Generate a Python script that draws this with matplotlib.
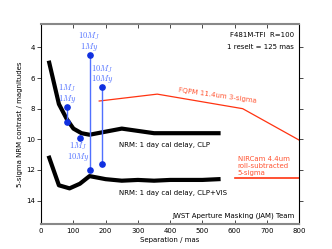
import matplotlib
matplotlib.use("Agg")
import matplotlib.pyplot as plt

plt.rcParams['mathtext.fontset'] = 'cm'

# NRM contrast curves (separation in mas, contrast in mag)
clp_sep = [25, 55, 80, 100, 125, 150, 200, 250, 300, 350, 400, 450, 500, 550]
clp_mag = [5.0, 7.7, 8.7, 9.3, 9.6, 9.7, 9.5, 9.3, 9.45, 9.6, 9.6, 9.6, 9.6, 9.6]
vis_sep = [25, 55, 88, 120, 150, 200, 250, 300, 350, 400, 450, 500, 550]
vis_mag = [11.2, 13.0, 13.2, 12.9, 12.4, 12.6, 12.7, 12.65, 12.7, 12.65, 12.65, 12.65, 12.6]

# FQPM and NIRCam curves
fqpm_sep = [180, 360, 625, 800]
fqpm_mag = [7.5, 7.05, 8.0, 10.05]
nircam_sep = [600, 800]
nircam_mag = [12.5, 12.5]

# planet models: separation, top mag, bottom mag, labels
planet_sep = [80, 150, 190]
planet_top = [7.9, 4.5, 6.6]
planet_bot = [8.9, 12.0, 11.6]
planet_labels = [r'$1M_J$' + '\n' + r'$1My$', r'$10M_J$' + '\n' + r'$1My$', r'$10M_J$' + '\n' + r'$10My$']
single_sep = 120
single_mag = 9.9
single_label = r'$1M_J$' + '\n' + r'$10My$'

fig = plt.figure(figsize=(3.32, 2.49), dpi=100)
ax = fig.add_axes([0.124, 0.102, 0.777, 0.8])

ax.plot(clp_sep, clp_mag, color='black', lw=3)
ax.plot(vis_sep, vis_mag, color='black', lw=3)
ax.plot(fqpm_sep, fqpm_mag, color='#ff3311', lw=0.9)
ax.plot(nircam_sep, nircam_mag, color='#ff3311', lw=1.2)

blue = '#1030e0'
lblue = '#5070ff'
for s, t, b, lab in zip(planet_sep, planet_top, planet_bot, planet_labels):
    ax.plot([s, s], [t, b], color=lblue, lw=1)
    ax.plot([s, s], [t, b], 'o', color=blue, ms=3.8)
    ax.text(s, t - 0.15, lab, color=lblue, fontsize=6, ha='center', va='bottom', linespacing=0.8)
ax.plot(single_sep, single_mag, 'o', color=blue, ms=3.8)
ax.text(single_sep - 5, single_mag + 0.2, single_label, color=lblue, fontsize=6,
        ha='center', va='top', linespacing=0.8)

ax.text(785, 3.2, 'F481M-TFI  R=100', fontsize=5, ha='right', va='center')
ax.text(785, 3.95, '1 reselt = 125 mas', fontsize=5, ha='right', va='center')
ax.text(548, 7.15, 'FQPM 11.4um 3-sigma', fontsize=5, color='#ff5533', rotation=-8,
        ha='center', va='center')
ax.text(240, 10.4, 'NRM: 1 day cal delay, CLP', fontsize=5, ha='left', va='center')
ax.text(240, 13.5, 'NRM: 1 day cal delay, CLP+VIS', fontsize=5, ha='left', va='center')
ax.text(610, 11.75, 'NIRCam 4.4um\nroll-subtracted\n5-sigma', fontsize=5, color='#ff5533',
        ha='left', va='center', linespacing=1.2)
ax.text(785, 15.0, 'JWST Aperture Masking (JAM) Team', fontsize=5, ha='right', va='center')

ax.set_xlim(0, 800)
ax.set_ylim(15.5, 2.5)
ax.set_xticks(range(0, 801, 100))
ax.set_yticks([4, 6, 8, 10, 12, 14])
ax.tick_params(labelsize=5, length=3, width=0.5)
ax.tick_params(axis='x', direction='in', top=True)
ax.tick_params(axis='y', direction='out', right=True, pad=1.5)
ax.set_xlabel('Separation / mas', fontsize=5, labelpad=2)
ax.set_ylabel('5-sigma NRM contrast / magnitudes', fontsize=5, labelpad=2)
for side in ['top', 'bottom']:
    ax.spines[side].set_color('#888888')
    ax.spines[side].set_linewidth(1.5)

fig.savefig('out.png', dpi=100)
